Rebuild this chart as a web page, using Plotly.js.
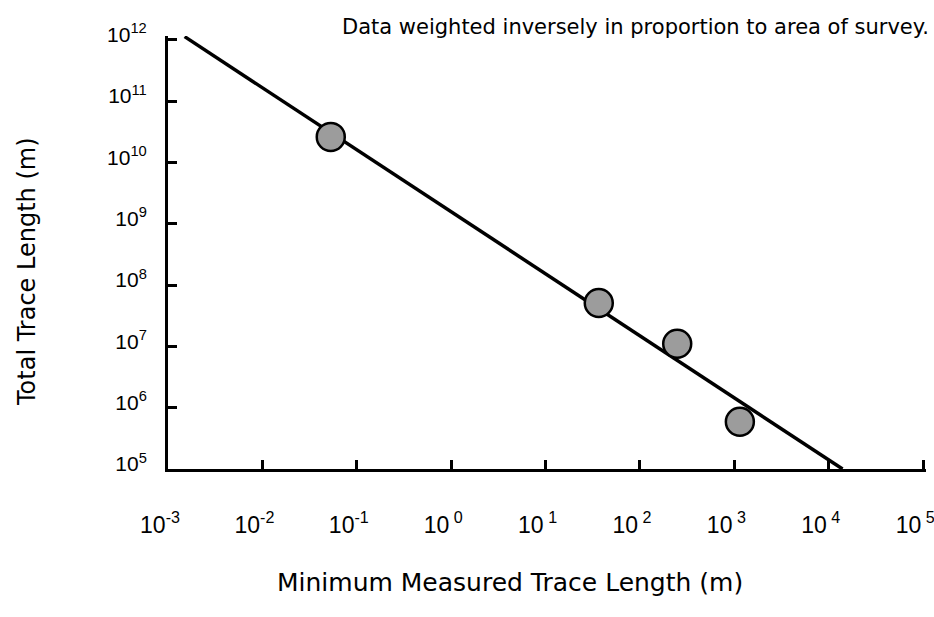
<!DOCTYPE html>
<html>
<head>
<meta charset="utf-8">
<script src="https://cdn.plot.ly/plotly-3.0.1.min.js"></script>
<style>
  html, body { margin: 0; padding: 0; background: #fff; }
  #chart { width: 934px; height: 617px; }
</style>
</head>
<body>
<div id="chart"></div>
<script>
// Survey observations: minimum measured trace length vs total trace length (m)
const minTraceLength = [0.053, 36.6, 248, 1143];
const totalTraceLength = [2.6e10, 5.1e7, 1.1e7, 5.9e5];

// Weighted power-law fit, drawn between its two end points
const fitX = [0.0015, 14000];
const fitY = [1.12e12, 1e5];

// Decade tick positions and their labels
const xTickVals = [1e-3, 1e-2, 1e-1, 1e0, 1e1, 1e2, 1e3, 1e4, 1e5];
const xTickText = ['10<sup>-3</sup>', '10<sup>-2</sup>', '10<sup>-1</sup>', '10<sup> 0</sup>',
                   '10<sup> 1</sup>', '10<sup> 2</sup>', '10<sup> 3</sup>', '10<sup> 4</sup>', '10<sup> 5</sup>'];
const yTickVals = [1e5, 1e6, 1e7, 1e8, 1e9, 1e10, 1e11, 1e12];
const yTickText = ['10<sup>5</sup>', '10<sup>6</sup>', '10<sup>7</sup>', '10<sup>8</sup>',
                   '10<sup>9</sup>', '10<sup>10</sup>', '10<sup>11</sup>', '10<sup>12</sup>'];

const xTitle = 'Minimum Measured Trace Length (m)';
const yTitle = 'Total Trace Length (m)';
const note = 'Data weighted inversely in proportion to area of survey.';

const sans = 'Liberation Sans, Arial, Helvetica, sans-serif';
const narrow = 'Liberation Sans Narrow, Arial Narrow, Liberation Sans, sans-serif';
const wide = 'DejaVu Sans, Liberation Sans, sans-serif';

const traces = [
  {
    x: fitX, y: fitY, mode: 'lines', type: 'scatter',
    line: { color: '#000', width: 3.5 }, hoverinfo: 'skip'
  },
  {
    x: minTraceLength, y: totalTraceLength, mode: 'markers', type: 'scatter',
    marker: { symbol: 'circle', size: 28, color: '#9c9c9c', line: { color: '#000', width: 2.5 } }
  }
];

const layout = {
  width: 934, height: 617,
  margin: { l: 168, r: 8, t: 36, b: 148 },
  paper_bgcolor: '#fff', plot_bgcolor: '#fff',
  showlegend: false,
  font: { family: sans, color: '#000' },
  xaxis: {
    type: 'log', range: [-3, 5.03],
    tickvals: xTickVals, ticktext: xTickText,
    ticks: 'inside', ticklen: 9, tickwidth: 3, tickcolor: '#000',
    showline: true, linewidth: 3, linecolor: '#000',
    showgrid: false, zeroline: false,
    tickfont: { size: 23, family: narrow },
    ticklabelstandoff: 33,
    ticklabelshift: -8,
    ticklabeloverflow: 'allow'
  },
  yaxis: {
    type: 'log', range: [5, 12.06],
    tickvals: yTickVals, ticktext: yTickText,
    ticks: 'inside', ticklen: 9, tickwidth: 3, tickcolor: '#000',
    showline: true, linewidth: 3, linecolor: '#000',
    showgrid: false, zeroline: false,
    tickfont: { size: 21, family: sans },
    ticklabelstandoff: 14,
    ticklabelshift: -5,
    ticklabeloverflow: 'allow'
  },
  annotations: [
    {
      text: note,
      xref: 'paper', yref: 'paper', x: 1.0066, y: 1.021,
      xanchor: 'right', yanchor: 'middle', showarrow: false,
      font: { size: 21, family: wide, color: '#000' }
    },
    {
      text: xTitle,
      xref: 'paper', yref: 'paper', x: 0.451, y: -0.261,
      xanchor: 'center', yanchor: 'middle', showarrow: false,
      font: { size: 25, family: wide, color: '#000' }
    },
    {
      text: yTitle, textangle: -90,
      xref: 'paper', yref: 'paper', x: -0.186, y: 0.455,
      xanchor: 'center', yanchor: 'middle', showarrow: false,
      font: { size: 24, family: wide, color: '#000' }
    }
  ]
};

Plotly.newPlot('chart', traces, layout, { displayModeBar: false, staticPlot: true });
</script>
</body>
</html>
